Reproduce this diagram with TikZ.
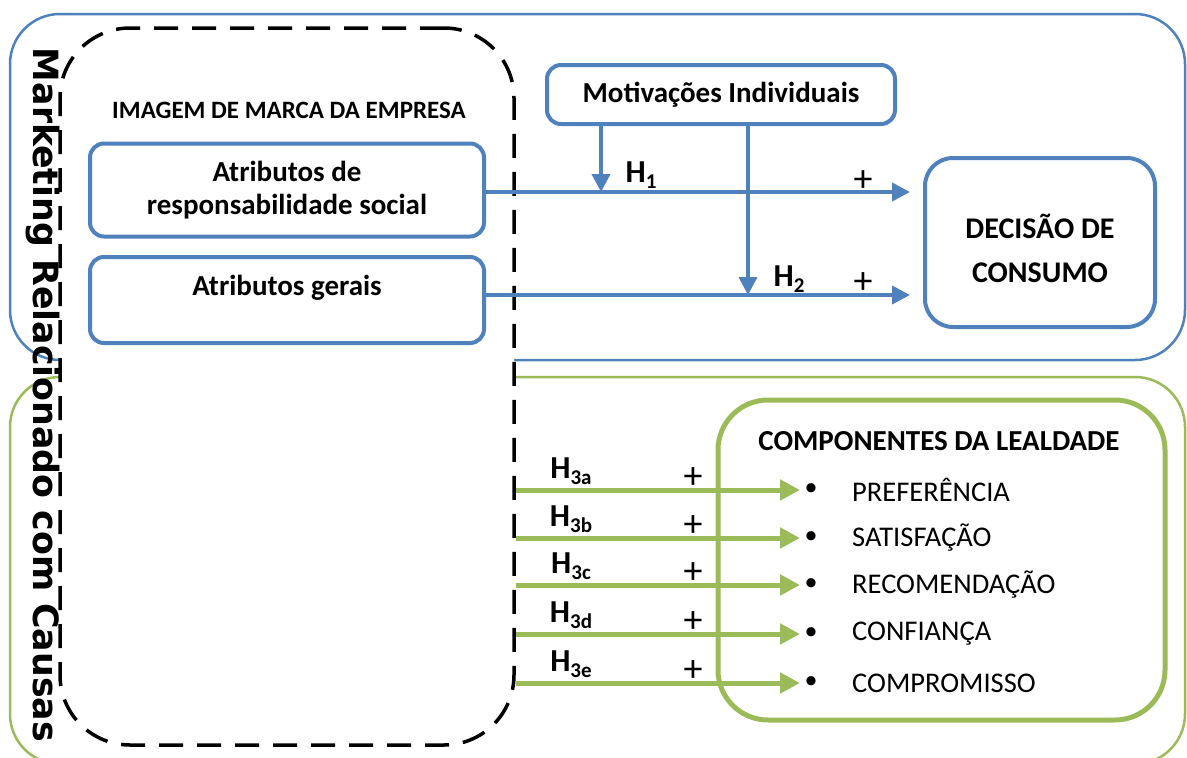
\documentclass[tikz,border=0pt]{standalone}
\usepackage{fontspec}
\setmainfont{Carlito}
\newfontfamily\vfont{DejaVu Sans}
\usetikzlibrary{arrows.meta}
\definecolor{myblue}{HTML}{4F81BD}
\definecolor{mygreen}{HTML}{9BBB59}
\tikzset{
  outerblue/.style={draw=myblue, line width=2.5pt, rounded corners=50pt},
  outergreen/.style={draw=mygreen, line width=2.5pt, rounded corners=50pt},
  bbox/.style={draw=myblue, line width=4pt, rounded corners=14pt, fill=white, inner sep=0pt},
  gbox/.style={draw=mygreen, line width=5pt, rounded corners=50pt, inner sep=0pt},
  dbox/.style={draw=black, line width=3.5pt, dash pattern=on 24pt off 14pt, rounded corners=70pt, fill=white, inner sep=0pt},
  barrow/.style={draw=myblue, line width=4pt, -{Triangle[length=18pt,width=18pt]}},
  garrow/.style={draw=mygreen, line width=5pt, -{Triangle[length=20pt,width=20pt]}},
  lbl/.style={font=\bfseries\fontsize{29}{33}\selectfont, align=center, inner sep=0pt},
  hdr/.style={font=\bfseries\fontsize{25}{28}\selectfont, inner sep=0pt},
  hlbl/.style={font=\bfseries\fontsize{32}{34}\selectfont, inner sep=0pt},
  plus/.style={font=\fontsize{38}{40}\selectfont, inner sep=0pt},
  item/.style={font=\fontsize{28.5}{30}\selectfont, anchor=west, inner sep=0pt},
  bul/.style={font=\fontsize{26}{30}\selectfont, inner sep=0pt},
}
\newcommand{\hsub}[2]{H\raisebox{-6pt}{\fontsize{21}{21}\selectfont #2}}
\begin{document}
\begin{tikzpicture}[x=1pt,y=-1pt]
\useasboundingbox (0,0) rectangle (1187,758);
% outer regions
\draw[outerblue] (10,14) rectangle (1185,360);
\draw[outergreen] (10,377) rectangle (1185,764);
% dashed company image box
\node[dbox, minimum width=454pt, minimum height=717pt] (img) at (287,386.5) {};
\node[hdr] (imgl) at (289,110) {IMAGEM DE MARCA DA EMPRESA};
% attribute boxes
\node[bbox, lbl, minimum width=394pt, minimum height=93pt] (attr1) at (287,190) {Atributos de\\responsabilidade social};
\node[bbox, minimum width=394pt, minimum height=86pt] (attr2) at (287,300) {};
\node[lbl] (attr2l) at (287,288) {Atributos gerais};
% motivations
\node[bbox, lbl, minimum width=348pt, minimum height=59pt] (motiv) at (721,94.5) {Motivações Individuais};
% decision
\node[bbox, rounded corners=28pt, minimum width=230pt, minimum height=169pt] (dec) at (1040,242.5) {};
\node[font=\bfseries\fontsize{30}{44}\selectfont, align=center, inner sep=0pt] (decl) at (1040,248) {DECISÃO DE\\CONSUMO};
% junction coordinates
\coordinate (j1) at (601,192);
\coordinate (j2) at (748,295);
\coordinate (t1) at (910,192);
\coordinate (t2) at (910,295);
\draw[barrow] (attr1.east |- t1) -- (t1);
\draw[barrow] (attr2.east |- t2) -- (t2);
\draw[barrow] (motiv.south -| j1) -- (j1);
\draw[barrow] (motiv.south -| j2) -- (j2);
\node[hlbl] (h1) at (641,175) {\hsub{H}{1}};
\node[hlbl] (h2) at (789,279) {\hsub{H}{2}};
\node[plus] (p1) at (863,181) {+};
\node[plus] (p2) at (863,283) {+};
% loyalty components
\node[gbox, minimum width=447pt, minimum height=320pt] (comp) at (941.5,560) {};
\node[font=\bfseries\fontsize{29}{30}\selectfont, inner sep=0pt] (compl) at (939,441) {COMPONENTES DA LEALDADE};
\foreach \y/\s/\t [count=\i] in {490/3a/PREFERÊNCIA, 538/3b/SATISFAÇÃO, 585/3c/RECOMENDAÇÃO, 634/3d/CONFIANÇA, 683/3e/COMPROMISSO}{
  \coordinate (g\i) at (800,\y);
  \draw[garrow] (img.east |- g\i) -- (g\i);
  \node[hlbl] (h3\i) at (571,\y-19) {\hsub{H}{\s}};
  \node[plus] (p3\i) at (693,\y-12) {+};
  \node[bul] (b\i) at (811,\y) {\textbullet};
  \node[item] (it\i) at (852,\y) {\t};
}
% vertical title
\node[rotate=-90, inner sep=0pt] (title) at (43,395) {\resizebox{694pt}{!}{\vfont\bfseries Marketing Relacionado com Causas}};
\end{tikzpicture}
\end{document}
